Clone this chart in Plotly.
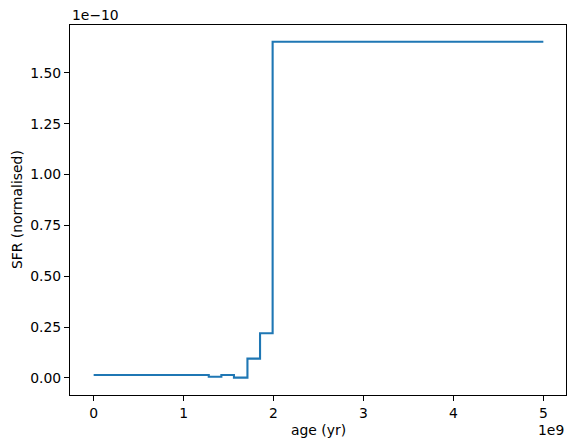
import plotly.graph_objects as go

age = [0, 1.28e9, 1.42e9, 1.56e9, 1.71e9, 1.85e9, 1.99e9, 5.0e9]
sfr = [1.5e-12, 0.6e-12, 1.5e-12, 0.2e-12, 9.5e-12, 22e-12, 165.3e-12, 165.3e-12]

x_ticks = [0, 1e9, 2e9, 3e9, 4e9, 5e9]
x_labels = ["0", "1", "2", "3", "4", "5"]
y_ticks = [0, 0.25e-10, 0.5e-10, 0.75e-10, 1.0e-10, 1.25e-10, 1.5e-10]
y_labels = ["0.00", "0.25", "0.50", "0.75", "1.00", "1.25", "1.50"]

fig = go.Figure()
fig.add_trace(go.Scatter(x=age, y=sfr, mode="lines", line=dict(color="#1f77b4", width=2.1, shape="hv")))

font = dict(family="DejaVu Sans", size=13.9, color="black")
axis_common = dict(showline=True, linecolor="black", linewidth=1.1, mirror=True, ticks="outside",
                   ticklen=5, tickwidth=1.1, tickcolor="black", showgrid=False, zeroline=False,
                   tickfont=font, automargin=False)
fig.update_layout(
    width=576, height=448, margin=dict(l=70, r=10, t=25, b=53),
    paper_bgcolor="white", plot_bgcolor="white", showlegend=False, font=font,
    xaxis=dict(range=[-0.263e9, 5.252e9], tickvals=x_ticks, ticktext=x_labels, **axis_common),
    yaxis=dict(range=[-0.0836e-10, 1.735e-10], tickvals=y_ticks, ticktext=y_labels, **axis_common),
)
fig.add_annotation(text="age (yr)", xref="paper", yref="paper", x=0.5, y=0, xanchor="center", yanchor="middle",
                   showarrow=False, font=font, yshift=-35)
fig.add_annotation(text="SFR (normalised)", xref="paper", yref="paper", x=0, y=0.5, xanchor="center", yanchor="middle",
                   showarrow=False, font=font, xshift=-53, textangle=-90)
fig.add_annotation(text="1e\u221210", xref="paper", yref="paper", x=0, y=1, xanchor="left", yanchor="bottom",
                   showarrow=False, font=font, yshift=0)
fig.add_annotation(text="1e9", xref="paper", yref="paper", x=1, y=0, xanchor="right", yanchor="middle",
                   showarrow=False, font=font, yshift=-35)
fig.write_html("out.html", config={"displayModeBar": False},
               post_script="document.body.style.margin='0';document.body.style.overflow='hidden';")
